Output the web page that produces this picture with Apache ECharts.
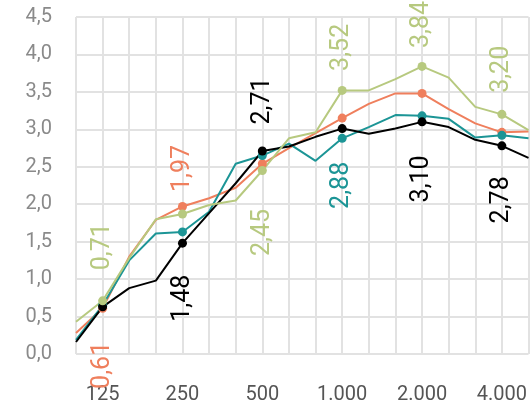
<!DOCTYPE html>
<html>
<head>
<meta charset="utf-8">
<script src="https://cdn.jsdelivr.net/npm/echarts@6/dist/echarts.min.js"></script>
<style>
  html, body { margin: 0; padding: 0; background: #fff; }
  #chart { width: 530px; height: 410px; }
</style>
</head>
<body>
<div id="chart"></div>
<script>
// third-octave bands (Hz)
var bands = ['100', '125', '160', '200', '250', '315', '400', '500', '630', '800',
             '1000', '1250', '1600', '2000', '2500', '3150', '4000', '5000'];
// octave bands that get a tick label and a marker
var tickBands = ['125', '250', '500', '1000', '2000', '4000'];
var tickLabels = ['125', '250', '500', '1.000', '2.000', '4.000'];

var green  = [0.43, 0.71, 1.28, 1.80, 1.87, 1.99, 2.05, 2.45, 2.88, 2.96, 3.52, 3.52, 3.67, 3.84, 3.69, 3.30, 3.20, 2.99];
var salmon = [0.28, 0.61, 1.30, 1.79, 1.97, 2.08, 2.22, 2.54, 2.75, 2.95, 3.15, 3.34, 3.48, 3.48, 3.27, 3.08, 2.96, 2.97];
var teal   = [0.19, 0.65, 1.25, 1.61, 1.63, 1.90, 2.54, 2.65, 2.81, 2.58, 2.88, 3.03, 3.19, 3.18, 3.14, 2.89, 2.92, 2.88];
var black  = [0.16, 0.63, 0.88, 0.98, 1.48, 1.88, 2.28, 2.71, 2.77, 2.90, 3.01, 2.94, 3.01, 3.10, 3.03, 2.86, 2.78, 2.62];

// which points carry a value label: band -> [side, gap in px]
var labelSpots = {
  green:  { '125': ['top', 26], '500': ['bottom', 34], '1000': ['top', 15], '2000': ['top', 14], '4000': ['top', 17] },
  salmon: { '125': ['bottom', 29], '250': ['top', 10] },
  teal:   { '1000': ['bottom', 19] },
  black:  { '250': ['bottom', 27], '500': ['top', 22], '2000': ['bottom', 29], '4000': ['bottom', 26] }
};

var FONT = 'Roboto, sans-serif';

function comma(v, d) {
  return v.toFixed(d).replace('.', ',');
}

function buildData(values, spots, color) {
  return values.map(function (v, i) {
    var band = bands[i];
    var item = { value: v, symbol: tickBands.indexOf(band) >= 0 ? 'circle' : 'none' };
    var s = spots[band];
    if (s) {
      item.label = {
        show: true,
        position: s[0],
        distance: s[1],
        rotate: 90,
        align: s[0] === 'top' ? 'left' : 'right',
        verticalAlign: 'middle',
        color: color,
        fontFamily: FONT,
        fontSize: 25,
        formatter: function (p) { return comma(p.value, 2); }
      };
    }
    return item;
  });
}

function makeSeries(name, values, color) {
  return {
    name: name,
    type: 'line',
    data: buildData(values, labelSpots[name], color),
    symbolSize: 9,
    showSymbol: true,
    lineStyle: { color: color, width: 2 },
    itemStyle: { color: color },
    label: { show: false },
    emphasis: { disabled: true },
    animation: false
  };
}

var myChart = echarts.init(document.getElementById('chart'));

var option = {
  animation: false,
  grid: { left: 76, right: 0, top: 17, bottom: 56 },
  xAxis: {
    type: 'category',
    data: bands,
    boundaryGap: false,
    axisLine: { show: false },
    axisTick: { show: false },
    axisLabel: {
      interval: function (i, v) { return tickBands.indexOf(v) >= 0; },
      formatter: function (v) { return tickLabels[tickBands.indexOf(v)]; },
      color: '#555',
      fontFamily: FONT,
      fontSize: 20,
      margin: 31
    },
    splitLine: { show: true, interval: 0, lineStyle: { color: '#e2e2e2', width: 2 } }
  },
  yAxis: {
    type: 'value',
    min: 0,
    max: 4.5,
    interval: 0.5,
    axisLine: { show: false },
    axisTick: { show: false },
    axisLabel: {
      formatter: function (v) { return comma(v, 1); },
      color: '#8a8a8a',
      fontFamily: FONT,
      fontSize: 20,
      margin: 24
    },
    splitLine: { show: true, lineStyle: { color: '#e2e2e2', width: 2 } }
  },
  series: [
    makeSeries('salmon', salmon, '#ef7f5d'),
    makeSeries('teal', teal, '#1c9596'),
    makeSeries('black', black, '#000000'),
    makeSeries('green', green, '#b7c97f')
  ]
};

myChart.setOption(option);
</script>
</body>
</html>
